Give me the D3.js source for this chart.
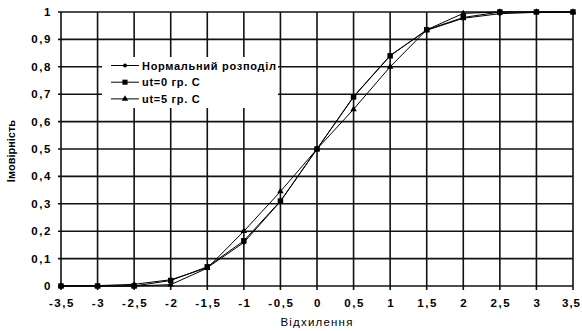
<!DOCTYPE html>
<html>
<head>
<meta charset="utf-8">
<script src="https://cdn.jsdelivr.net/npm/d3@7"></script>
<style>
  body { margin: 0; background: #fff; }
  text { font-family: "Liberation Sans", Arial, sans-serif; fill: #000; }
</style>
</head>
<body>
<div id="chart"></div>
<script>
// x positions (deviation) and the three series
const deviations = [-3.5, -3, -2.5, -2, -1.5, -1, -0.5, 0, 0.5, 1, 1.5, 2, 2.5, 3, 3.5];
const normalValues = [0.0002, 0.0013, 0.0062, 0.0228, 0.0668, 0.1587, 0.3085, 0.5, 0.6915, 0.8413, 0.9332, 0.9772, 0.9938, 0.9987, 0.9998];
const ut0Values = [0, 0, 0, 0.02, 0.07, 0.165, 0.31, 0.5, 0.69, 0.84, 0.935, 0.98, 1, 1, 1];
const ut5Values = [0, 0, 0, 0.005, 0.065, 0.2, 0.345, 0.5, 0.645, 0.8, 0.935, 0.995, 1, 1, 1];
const seriesNames = ['Нормальний розподіл', 'ut=0 гр. С', 'ut=5 гр. С'];
const xTicks = deviations;
const yTicks = [0, 0.1, 0.2, 0.3, 0.4, 0.5, 0.6, 0.7, 0.8, 0.9, 1];

const width = 582, height = 331;
const margin = { left: 61, right: 9, top: 12, bottom: 45 };

const svg = d3.select('#chart').append('svg')
    .attr('width', width)
    .attr('height', height);

const x = d3.scaleLinear().domain([-3.5, 3.5]).range([margin.left, width - margin.right]);
const y = d3.scaleLinear().domain([0, 1]).range([height - margin.bottom, margin.top]);

const fmt = v => String(v).replace('.', ',');

// grid
const grid = svg.append('g').attr('stroke', '#111').attr('stroke-width', 1.6);
grid.selectAll('line.h')
    .data(yTicks)
    .join('line')
    .attr('x1', margin.left - 3)
    .attr('x2', width - margin.right)
    .attr('y1', d => y(d))
    .attr('y2', d => y(d));
grid.selectAll('line.v')
    .data(xTicks)
    .join('line')
    .attr('x1', d => x(d))
    .attr('x2', d => x(d))
    .attr('y1', margin.top)
    .attr('y2', height - margin.bottom + 4);

// legend box (white, hides the grid behind it)
const legend = svg.append('g');
legend.append('rect')
    .attr('x', 102).attr('y', 57)
    .attr('width', 176).attr('height', 51)
    .attr('fill', '#fff');

// axis labels (the original is a bit stretched sideways, hence the letter-spacing)
svg.append('g').selectAll('text')
    .data(yTicks)
    .join('text')
    .attr('x', margin.left - 9)
    .attr('y', d => y(d) + 4)
    .attr('text-anchor', 'end')
    .attr('font-size', 11.5)
    .attr('font-weight', 'bold')
    .attr('letter-spacing', 1.6)
    .text(fmt);

const lastTick = xTicks[xTicks.length - 1];
svg.append('g').selectAll('text')
    .data(xTicks)
    .join('text')
    .attr('x', d => d === lastTick ? width - 1 : x(d) + 1)
    .attr('y', height - margin.bottom + 21)
    .attr('text-anchor', d => d === lastTick ? 'end' : 'middle')
    .attr('font-size', 11.5)
    .attr('font-weight', 'bold')
    .attr('letter-spacing', d => d === lastTick ? 1 : 1.6)
    .text(fmt);

svg.append('text')
    .attr('x', x(0))
    .attr('y', 326)
    .attr('text-anchor', 'middle')
    .attr('font-size', 11.5)
    .attr('letter-spacing', 1.2)
    .text('Відхилення');

svg.append('text')
    .attr('transform', `translate(15,${y(0.5) + 2}) rotate(-90)`)
    .attr('text-anchor', 'middle')
    .attr('font-size', 11)
    .attr('font-weight', 'bold')
    .text('Імовірність');

// series
const series = [
    { name: seriesNames[0], values: normalValues, symbol: d3.symbolCircle, size: 12 },
    { name: seriesNames[1], values: ut0Values, symbol: d3.symbolSquare, size: 30 },
    { name: seriesNames[2], values: ut5Values, symbol: d3.symbolTriangle, size: 18 }
];

const line = d3.line()
    .x((d, i) => x(deviations[i]))
    .y(d => y(d));

series.forEach(s => {
    svg.append('path')
        .datum(s.values)
        .attr('fill', 'none')
        .attr('stroke', '#000')
        .attr('stroke-width', 1)
        .attr('d', line);
    svg.append('g').selectAll('path')
        .data(s.values)
        .join('path')
        .attr('transform', (d, i) => `translate(${x(deviations[i])},${y(d)})`)
        .attr('d', d3.symbol().type(s.symbol).size(s.size))
        .attr('fill', '#000');
});

// legend entries
series.forEach((s, i) => {
    const ly = 65.5 + i * 16.7;
    legend.append('line')
        .attr('x1', 111).attr('x2', 139)
        .attr('y1', ly).attr('y2', ly)
        .attr('stroke', '#000').attr('stroke-width', 1);
    legend.append('path')
        .attr('transform', `translate(125,${ly})`)
        .attr('d', d3.symbol().type(s.symbol).size(i === 1 ? 26 : s.size))
        .attr('fill', '#000');
    legend.append('text')
        .attr('x', 142)
        .attr('y', ly + 4)
        .attr('font-size', 11)
        .attr('font-weight', 'bold')
        .attr('letter-spacing', 0.7)
        .text(s.name);
});
</script>
</body>
</html>
